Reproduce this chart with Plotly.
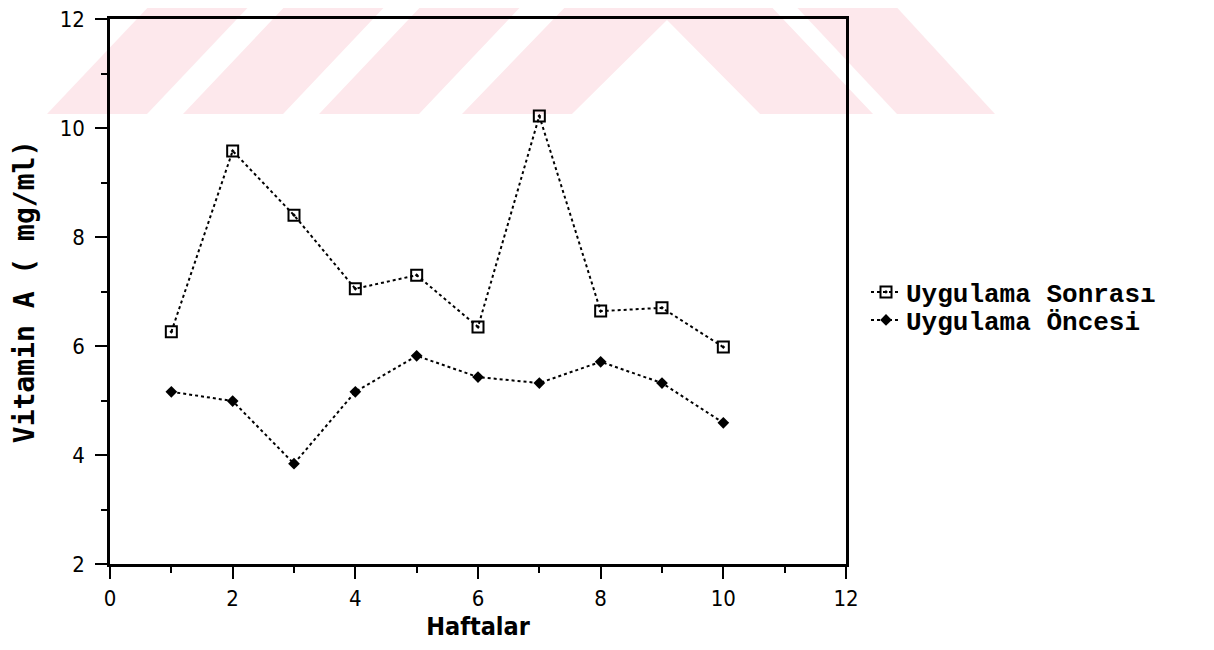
import plotly.graph_objects as go

# ---- data ----
weeks = [1, 2, 3, 4, 5, 6, 7, 8, 9, 10]
sonrasi = [6.26, 9.58, 8.40, 7.05, 7.30, 6.35, 10.22, 6.64, 6.70, 5.98]
oncesi = [5.16, 4.99, 3.84, 5.16, 5.82, 5.43, 5.32, 5.71, 5.32, 4.59]
series_names = ["Uygulama Sonrası", "Uygulama Öncesi"]
x_title = "Haftalar"
y_title = "Vitamin A ( mg/ml)"

# ---- layout geometry (pixels, as seen on screen) ----
W, H = 1214, 650
OFF = 8  # page body margin added by the browser
L, R, T, B = 110, 846, 19, 564
pw, ph = R - L, B - T


def px(x):
    return (x - L) / pw


def py(y):
    return (B - y) / ph


fig = go.Figure()

fig.add_trace(go.Scatter(
    x=weeks, y=sonrasi, name=series_names[0], mode="lines+markers",
    line=dict(color="black", width=2, dash="dot"),
    marker=dict(symbol="square-open-dot", size=11, color="black",
                line=dict(color="black", width=2)),
    legend="legend",
))
fig.add_trace(go.Scatter(
    x=weeks, y=oncesi, name=series_names[1], mode="lines+markers",
    line=dict(color="black", width=2, dash="dot"),
    marker=dict(symbol="diamond", size=9, color="black"),
    legend="legend2",
))

# ---- faint watermark stripes (decorative) ----
pink = "#fde8ec"
polys = [
    [(47, 114), (147, 114), (255, 0), (155, 0)],
    [(183, 114), (283, 114), (391, 0), (291, 0)],
    [(319, 114), (419, 114), (527, 0), (427, 0)],
    [(462, 114), (572, 114), (667, 20), (760, 114), (873, 114), (765, 0), (572, 0)],
    [(897, 114), (995, 114), (890, 0), (790, 0)],
]
shapes = []
for poly in polys:
    path = "M " + " L ".join(f"{px(a):.4f},{py(b):.4f}" for a, b in poly) + " Z"
    shapes.append(dict(type="path", xref="paper", yref="paper", path=path,
                       fillcolor=pink, line=dict(width=0), layer="below"))

axis_common = dict(
    showline=True, linecolor="black", linewidth=2.5, mirror=True,
    ticks="outside", ticklen=12, tickwidth=2, tickcolor="black",
    showgrid=False, zeroline=False, ticklabeloverflow="allow",
    tickfont=dict(family="DejaVu Sans Condensed", size=22, color="black"),
    minor=dict(ticks="outside", ticklen=6, tickwidth=2, tickcolor="black", dtick=1),
)

legend_font = dict(family="Liberation Mono", size=26, color="black", weight="bold")

fig.update_layout(
    width=W, height=H,
    paper_bgcolor="white", plot_bgcolor="rgba(0,0,0,0)",
    margin=dict(l=L - OFF, r=W - R + OFF, t=T - OFF, b=H - B + OFF, autoexpand=False),
    shapes=shapes,
    xaxis=dict(range=[0, 12], tick0=0, dtick=2, ticklabelstandoff=1,
               title=dict(text=x_title, standoff=8,
                          font=dict(family="DejaVu Sans Condensed", size=25,
                                    color="black", weight="bold")),
               **axis_common),
    yaxis=dict(range=[2, 12], tick0=2, dtick=2, ticklabelstandoff=6,
               title=dict(text=y_title, standoff=24,
                          font=dict(family="DejaVu Sans Mono", size=28,
                                    color="black", weight="bold")),
               **axis_common),
    legend=dict(x=px(866), y=py(292), xanchor="left", yanchor="middle",
                bgcolor="rgba(0,0,0,0)", borderwidth=0,
                font=legend_font, itemwidth=30),
    legend2=dict(x=px(866), y=py(320), xanchor="left", yanchor="middle",
                 bgcolor="rgba(0,0,0,0)", borderwidth=0,
                 font=legend_font, itemwidth=30),
    showlegend=True,
)

fig.write_html("out.html")
